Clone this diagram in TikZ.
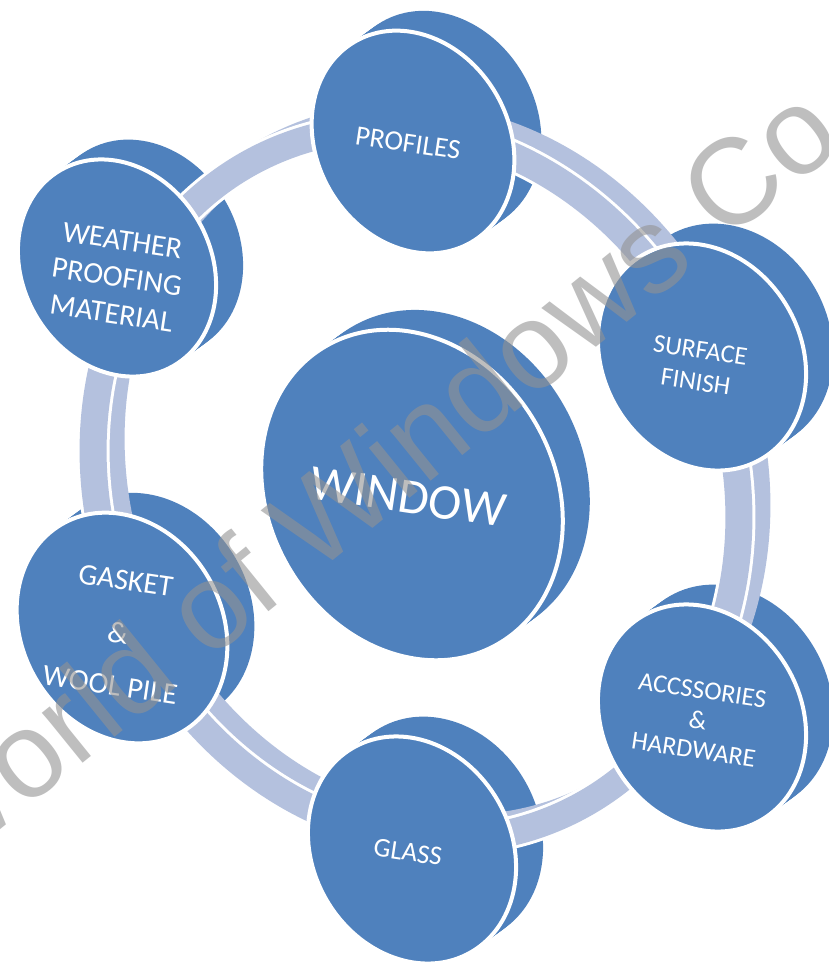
\documentclass[tikz,border=0pt]{standalone}
\usepackage{fontspec}
\setmainfont{Carlito}
\newfontfamily\markfont{Liberation Sans}
\definecolor{discblue}{RGB}{79,129,189}
\definecolor{ringblue}{RGB}{180,193,222}
\definecolor{markgray}{RGB}{147,147,147}
\tikzset{
  face/.style={fill=discblue, draw=white, line width=4pt},
  disctext/.style={text=white, align=center, rotate=-8.5, inner sep=0pt},
  ringband/.style={line width=27pt, draw=ringblue},
}
% back part of a disc: centre x, centre y, major, minor radius
\newcommand{\discback}[4]{%
  \foreach \k in {0,0.1,...,1.0}
    \fill[discblue, shift={({#1+30*\k},{#2-22*\k})}, rotate=-60]
      (0,0) ellipse [x radius=#3, y radius=#4];
}
\newcommand{\discface}[4]{%
  \filldraw[face, shift={(#1,#2)}, rotate=-60] (0,0) ellipse [x radius=#3, y radius=#4];
}
\begin{document}
\begin{tikzpicture}[x=1pt,y=-1pt]
  \useasboundingbox[fill=white] (0,0) rectangle (828,964);
  % back of the discs
  \discback{413}{142}{116}{96}
  \discback{117}{268}{113}{94}
  \discback{702}{357}{118}{99}
  \discback{702}{718}{118}{99}
  \discback{412}{850}{118}{99}
  \discback{122}{628}{120}{100}
  \discback{412}{495}{172}{143}
  % ring
  \draw[ringband, shift={(434,472)}, rotate=-68] (0,0) ellipse [x radius=362, y radius=316];
  \draw[white, line width=33pt, shift={(416,484)}, rotate=-68] (0,0) ellipse [x radius=362, y radius=316];
  \draw[ringband, shift={(416,484)}, rotate=-68] (0,0) ellipse [x radius=362, y radius=316];
  % front of the discs
  \discface{413}{142}{116}{96}
  \discface{117}{268}{113}{94}
  \discface{702}{357}{118}{99}
  \discface{702}{718}{118}{99}
  \discface{412}{850}{118}{99}
  \discface{122}{628}{120}{100}
  \discface{412}{495}{172}{143}
  % labels
  \node[disctext, font=\fontsize{50}{60}\selectfont] (window) at (408,497) {WINDOW};
  \node[disctext, font=\fontsize{28}{34}\selectfont] (profiles) at (408,143) {PROFILES};
  \node[disctext, font=\fontsize{30}{37}\selectfont] (weather) at (117,277) {WEATHER\\PROOFING\\MATERIAL};
  \node[disctext, font=\fontsize{26}{32}\selectfont] (surface) at (698,366) {SURFACE\\FINISH};
  \node[disctext, font=\fontsize{26}{30}\selectfont] (hardware) at (698,720) {ACCSSORIES\\\&\\HARDWARE};
  \node[disctext, font=\fontsize{27}{33}\selectfont] (glass) at (408,852) {GLASS};
  \node[disctext, font=\fontsize{30}{53}\selectfont] (gasket) at (118,633) {GASKET\\\&\\WOOL PILE};
  % watermark
  \node[text=markgray, text opacity=0.6, rotate=39, anchor=base west, inner sep=0pt,
        font=\markfont\fontsize{122}{140}\selectfont] (mark) at (-64,882) {World of Windows Co};
\end{tikzpicture}
\end{document}
